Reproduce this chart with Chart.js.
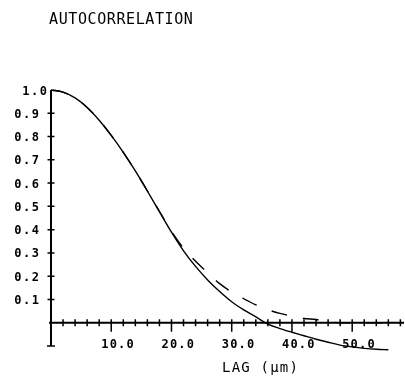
<!DOCTYPE html>
<html><head><meta charset="utf-8">
<script src="https://cdn.jsdelivr.net/npm/chart.js@4/dist/chart.umd.min.js"></script>
<style>html,body{margin:0;padding:0;background:#fff;overflow:hidden}canvas{display:block}</style>
</head><body>
<canvas id="c" width="405" height="376"></canvas>
<script>
const chartTitle = "AUTOCORRELATION";
const xAxisTitle = "LAG (\u03bcm)";
const lags = [0,2,4,6,8,10,12,14,16,18,20,22,24,26,28,30,32,34,36,38,40,42,44,46,48,50,52,54,56,58];
// solid curve (ends at lag 56)
const solidValues = [1.0,0.991,0.966,0.925,0.870,0.805,0.732,0.652,0.566,0.477,0.389,0.309,0.242,0.184,0.134,0.09,0.055,0.025,-0.006,-0.025,-0.041,-0.056,-0.071,-0.084,-0.096,-0.104,-0.110,-0.114,-0.116];
// dashed curve
const dashedValues = [1.0,0.991,0.966,0.925,0.870,0.805,0.732,0.652,0.566,0.478,0.393,0.32,0.264,0.215,0.168,0.132,0.103,0.077,0.056,0.04,0.028,0.018,0.014,0.005,0,0,0,0,0,0];
const yTickValues = [0.1,0.2,0.3,0.4,0.5,0.6,0.7,0.8,0.9,1.0];
const yTickLabels = ["0.1","0.2","0.3","0.4","0.5","0.6","0.7","0.8","0.9","1.0"];
const xMajorTicks = [10,20,30,40,50];
const xTickLabels = ["10.0","20.0","30.0","40.0","50.0"];
const xMinorTicks = [2,4,6,8,12,14,16,18,22,24,26,28,32,34,36,38,42,44,46,48,52,54,56,58];
const yMin = -0.1, yMax = 1.0, xMin = 0, xMax = 58.6;

const MONO = '"DejaVu Sans Mono", "Liberation Mono", monospace';

function spacedText(ctx, text, x, y, spacing) {
  let cx = x;
  for (const ch of text) {
    ctx.fillText(ch, cx, y);
    cx += ctx.measureText(ch).width + spacing;
  }
}
function spacedWidth(ctx, text, spacing) {
  let w = 0, n = 0;
  for (const ch of text) { w += ctx.measureText(ch).width; n++; }
  return w + spacing * (n - 1);
}

const axesPlugin = {
  id: 'plotterAxes',
  afterDatasetsDraw(chart) {
    const ctx = chart.ctx;
    const xs = chart.scales.x, ys = chart.scales.y;
    const x0 = xs.getPixelForValue(0), y0 = ys.getPixelForValue(0);
    ctx.save();
    ctx.strokeStyle = '#000';
    ctx.fillStyle = '#000';
    ctx.lineCap = 'butt';
    ctx.lineWidth = 2;
    ctx.beginPath();
    ctx.moveTo(x0, ys.getPixelForValue(yMax));
    ctx.lineTo(x0, ys.getPixelForValue(yMin));
    ctx.moveTo(x0 - 2, y0);
    ctx.lineTo(xs.getPixelForValue(xMax), y0);
    ctx.stroke();
    ctx.lineWidth = 1.5;
    ctx.beginPath();
    yTickValues.forEach(v => {
      if (v >= yMax) return;
      const py = ys.getPixelForValue(v);
      ctx.moveTo(x0 - 3.5, py); ctx.lineTo(x0 + 3.5, py);
    });
    const pyMin = ys.getPixelForValue(yMin);
    ctx.moveTo(x0 - 4, pyMin); ctx.lineTo(x0 + 4, pyMin);
    xMinorTicks.forEach(v => {
      const px = xs.getPixelForValue(v);
      ctx.moveTo(px, y0 - 3.5); ctx.lineTo(px, y0 + 3.5);
    });
    xMajorTicks.forEach(v => {
      const px = xs.getPixelForValue(v);
      ctx.moveTo(px, y0 - 3.5); ctx.lineTo(px, y0 + 9);
    });
    ctx.stroke();

    ctx.textBaseline = 'alphabetic';
    ctx.textAlign = 'left';
    ctx.font = '15px ' + MONO;
    spacedText(ctx, chartTitle, 49, 24, 0.6);
    ctx.font = 'bold 12px ' + MONO;
    yTickValues.forEach((v, i) => {
      const lab = yTickLabels[i];
      const w = spacedWidth(ctx, lab, 1.6);
      const py = ys.getPixelForValue(v);
      const right = (v >= yMax) ? x0 - 4 : x0 - 12;
      spacedText(ctx, lab, right - w, py + 4.5, 1.6);
    });
    xMajorTicks.forEach((v, i) => {
      const px = xs.getPixelForValue(v);
      spacedText(ctx, xTickLabels[i], px - 10, y0 + 25, 1.2);
    });
    ctx.font = '14px ' + MONO;
    spacedText(ctx, xAxisTitle, 222, 372, 1.2);
    ctx.restore();
  }
};

new Chart(document.getElementById('c'), {
  type: 'line',
  data: {
    datasets: [
      {
        label: 'solid',
        data: solidValues.map((v, i) => ({x: lags[i], y: v})),
        borderColor: '#000', borderWidth: 1.4, pointRadius: 0, cubicInterpolationMode: 'monotone', fill: false, clip: false
      },
      {
        label: 'dashed',
        data: dashedValues.map((v, i) => ({x: lags[i], y: v})),
        borderColor: '#000', borderWidth: 1.4, borderDash: [16, 16], borderDashOffset: -1.6,
        pointRadius: 0, cubicInterpolationMode: 'monotone', fill: false, clip: false
      }
    ]
  },
  options: {
    responsive: false,
    devicePixelRatio: 1,
    animation: false,
    layout: { padding: { left: 51, right: 1, top: 90, bottom: 30 } },
    scales: {
      x: { type: 'linear', min: xMin, max: xMax, display: false },
      y: { type: 'linear', min: yMin, max: yMax, display: false }
    },
    plugins: { legend: { display: false }, title: { display: false }, tooltip: { enabled: false } },
    events: []
  },
  plugins: [axesPlugin]
});
</script>
</body></html>
